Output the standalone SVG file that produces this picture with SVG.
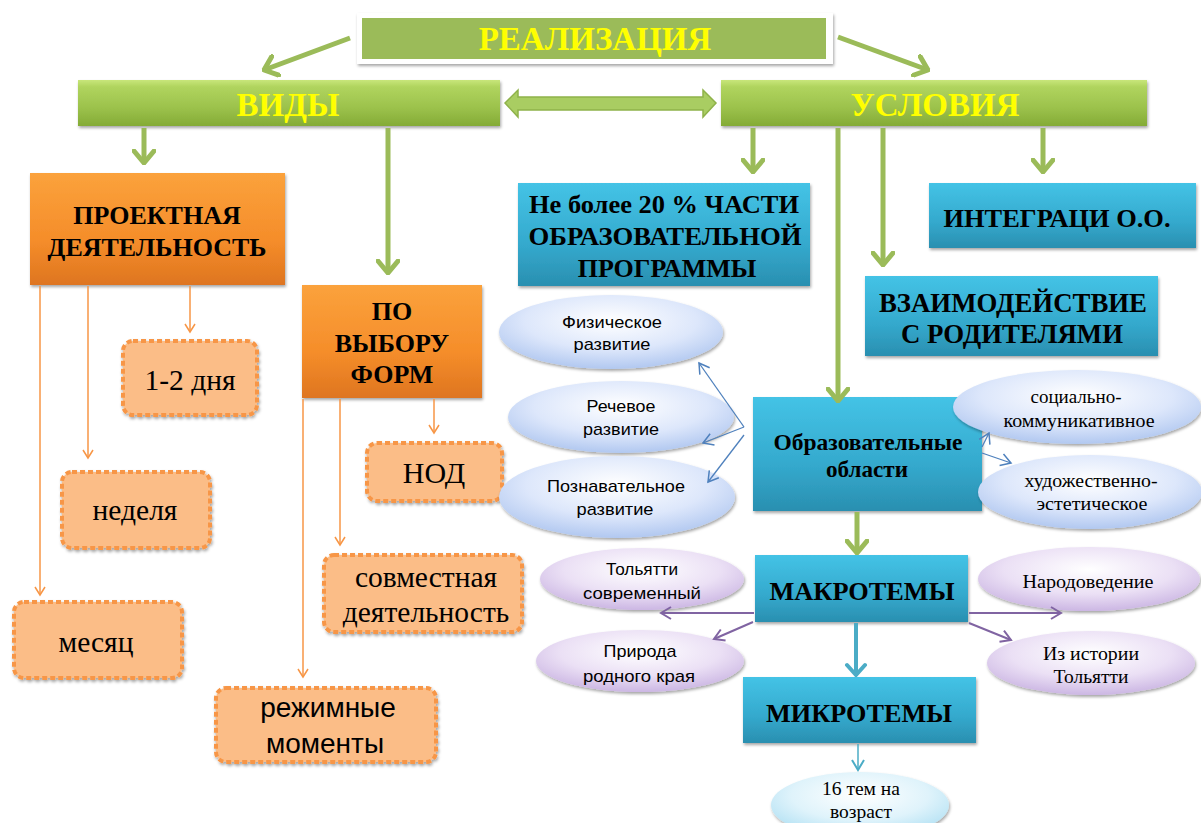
<svg xmlns="http://www.w3.org/2000/svg" width="1201" height="823" viewBox="0 0 1201 823">
<defs>
<linearGradient id="gGreen" x1="0" y1="0" x2="0" y2="1"><stop offset="0" stop-color="#c8e67a"/><stop offset="0.15" stop-color="#b0d45e"/><stop offset="0.6" stop-color="#9cc24c"/><stop offset="1" stop-color="#84ab36"/></linearGradient>
<linearGradient id="gOrange" x1="0" y1="0" x2="0" y2="1"><stop offset="0" stop-color="#fba23c"/><stop offset="0.6" stop-color="#f58d2a"/><stop offset="1" stop-color="#de7520"/></linearGradient>
<linearGradient id="gBlue" x1="0" y1="0" x2="0" y2="1"><stop offset="0" stop-color="#44c3e6"/><stop offset="0.6" stop-color="#34a9cd"/><stop offset="1" stop-color="#2a8fb0"/></linearGradient>
<radialGradient id="gEllBlue" cx="0.5" cy="0.35" r="0.7"><stop offset="0" stop-color="#ffffff"/><stop offset="0.55" stop-color="#dde7fb"/><stop offset="1" stop-color="#a9c2ee"/></radialGradient>
<radialGradient id="gEllPurple" cx="0.5" cy="0.35" r="0.7"><stop offset="0" stop-color="#ffffff"/><stop offset="0.55" stop-color="#ebe0f5"/><stop offset="1" stop-color="#c6afe0"/></radialGradient>
<radialGradient id="gEllCyan" cx="0.5" cy="0.35" r="0.7"><stop offset="0" stop-color="#ffffff"/><stop offset="0.55" stop-color="#dff3fb"/><stop offset="1" stop-color="#a9ddf2"/></radialGradient>
<filter id="sh" x="-10%" y="-10%" width="120%" height="130%"><feDropShadow dx="1" dy="2" stdDeviation="1.5" flood-color="#000" flood-opacity="0.35"/></filter>
<marker id="mGreen" markerUnits="userSpaceOnUse" viewBox="-14 -12 16 24" refX="0" refY="0" markerWidth="16" markerHeight="24" orient="auto"><path d="M-12,-10 L0,0 L-12,10" fill="none" stroke="#9bbb59" stroke-width="5" stroke-linecap="round" stroke-linejoin="round"/></marker>
<marker id="mOrange" markerUnits="userSpaceOnUse" viewBox="-10 -7 12 14" refX="0" refY="0" markerWidth="12" markerHeight="14" orient="auto"><path d="M-8,-5 L0,0 L-8,5" fill="none" stroke="#f79646" stroke-width="1.5"/></marker>
<marker id="mBlue" markerUnits="userSpaceOnUse" viewBox="-12 -8 14 16" refX="0" refY="0" markerWidth="14" markerHeight="16" orient="auto"><path d="M-10,-6 L0,0 L-10,6" fill="none" stroke="#4f81bd" stroke-width="1.5"/></marker>
<marker id="mPurple" markerUnits="userSpaceOnUse" viewBox="-12 -8 14 16" refX="0" refY="0" markerWidth="14" markerHeight="16" orient="auto"><path d="M-10,-6 L0,0 L-10,6" fill="none" stroke="#8064a2" stroke-width="2"/></marker>
<marker id="mCyan" markerUnits="userSpaceOnUse" viewBox="-12 -8 14 16" refX="0" refY="0" markerWidth="14" markerHeight="16" orient="auto"><path d="M-10,-6 L0,0 L-10,6" fill="none" stroke="#4bacc6" stroke-width="2"/></marker>
<marker id="mCyanBig" markerUnits="userSpaceOnUse" viewBox="-14 -12 16 24" refX="0" refY="0" markerWidth="16" markerHeight="24" orient="auto"><path d="M-10,-9 L0,0 L-10,9" fill="none" stroke="#4bacc6" stroke-width="4" stroke-linecap="round"/></marker>
</defs>
<style>
.hdr{font-family:'Liberation Serif','Times New Roman',serif;font-weight:bold;fill:#ffff00;text-anchor:middle;font-size:33px}
.bt{font-family:'Liberation Serif','Times New Roman',serif;font-weight:bold;fill:#000;text-anchor:middle}
.rt{font-family:'Liberation Serif','Times New Roman',serif;fill:#000;text-anchor:middle}
.st{font-family:'Liberation Sans',Arial,sans-serif;fill:#000;text-anchor:middle}
.es{font-family:'Liberation Sans',Arial,sans-serif;fill:#000;text-anchor:middle;font-size:17px}
.er{font-family:'Liberation Serif','Times New Roman',serif;fill:#000;text-anchor:middle;font-size:19px}
.green{fill:url(#gGreen);filter:url(#sh)}
.orange{fill:url(#gOrange);filter:url(#sh)}
.blue{fill:url(#gBlue);filter:url(#sh)}
.dash{fill:#fbbd87;stroke:#f79646;stroke-width:4;stroke-dasharray:5 3;filter:url(#sh)}
.eb{fill:url(#gEllBlue);filter:url(#sh)}
.ep{fill:url(#gEllPurple);filter:url(#sh)}
.ec{fill:url(#gEllCyan);filter:url(#sh)}
.cg{stroke:#9bbb59;stroke-width:5;fill:none;marker-end:url(#mGreen)}
.co{stroke:#f79646;stroke-width:1.5;fill:none;marker-end:url(#mOrange)}
.cb{stroke:#4f81bd;stroke-width:1.3;fill:none;marker-end:url(#mBlue)}
.cp{stroke:#8064a2;stroke-width:2;fill:none;marker-end:url(#mPurple)}
</style>
<rect width="1201" height="823" fill="#fff"/>

<g id="realizatsiya">
<rect x="357" y="13" width="476" height="51" fill="#fff" filter="url(#sh)"/>
<rect x="362" y="18" width="464" height="41" fill="#9bbb59"/>
<text class="hdr" x="595" y="50">РЕАЛИЗАЦИЯ</text>
</g>
<g id="vidy">
<rect class="green" x="78" y="80" width="422" height="46"/>
<text class="hdr" x="288" y="116">ВИДЫ</text>
</g>
<g id="usloviya">
<rect class="green" x="721" y="80" width="426" height="46"/>
<text class="hdr" x="935" y="116">УСЛОВИЯ</text>
</g>

<g id="proektnaya">
<rect class="orange" x="30" y="173" width="255" height="112"/>
<text class="bt" x="157" y="224" font-size="26">ПРОЕКТНАЯ</text>
<text class="bt" x="157" y="256" font-size="26">ДЕЯТЕЛЬНОСТЬ</text>
</g>
<g id="po-vyboru">
<rect class="orange" x="302" y="285" width="180" height="113"/>
<text class="bt" x="392" y="320" font-size="26">ПО</text>
<text class="bt" x="392" y="352" font-size="26">ВЫБОРУ</text>
<text class="bt" x="392" y="383" font-size="26">ФОРМ</text>
</g>
<g id="dni">
<rect class="dash" x="123" y="341" width="134" height="74" rx="10"/>
<text class="rt" x="190" y="390" font-size="29.5">1-2 дня</text>
</g>
<g id="nedelya">
<rect class="dash" x="62" y="472" width="148" height="76" rx="10"/>
<text class="rt" x="135" y="520" font-size="29.5">неделя</text>
</g>
<g id="mesyats">
<rect class="dash" x="14" y="602" width="168" height="76" rx="10"/>
<text class="rt" x="96" y="652" font-size="29.5">месяц</text>
</g>
<g id="nod">
<rect class="dash" x="367" y="443" width="135" height="58" rx="10"/>
<text class="rt" x="434" y="483" font-size="30">НОД</text>
</g>
<g id="sovmestnaya">
<rect class="dash" x="324" y="555" width="198" height="77" rx="10"/>
<text class="rt" x="426" y="587" font-size="29.5">совместная</text>
<text class="rt" x="426" y="622" font-size="29.5">деятельность</text>
</g>
<g id="rezhimnye">
<rect class="dash" x="216" y="688" width="220" height="74" rx="10"/>
<text class="st" x="328" y="717" font-size="28">режимные</text>
<text class="st" x="325" y="753" font-size="28">моменты</text>
</g>

<g id="ne-bolee">
<rect class="blue" x="518" y="183" width="292" height="103"/>
<text class="bt" x="664" y="213" font-size="26" textLength="270" lengthAdjust="spacingAndGlyphs">Не более 20 % ЧАСТИ</text>
<text class="bt" x="665" y="245" font-size="26" textLength="273" lengthAdjust="spacingAndGlyphs">ОБРАЗОВАТЕЛЬНОЙ</text>
<text class="bt" x="667" y="277" font-size="26">ПРОГРАММЫ</text>
</g>
<g id="integratsi">
<rect class="blue" x="929" y="183" width="267" height="65"/>
<text class="bt" x="1057" y="227" font-size="26" textLength="227" lengthAdjust="spacingAndGlyphs">ИНТЕГРАЦИ О.О.</text>
</g>
<g id="vzaimodeystvie">
<rect class="blue" x="865" y="276" width="293" height="80"/>
<text class="bt" x="1013" y="312" font-size="27" textLength="268" lengthAdjust="spacingAndGlyphs">ВЗАИМОДЕЙСТВИЕ</text>
<text class="bt" x="1012" y="343" font-size="27" textLength="222" lengthAdjust="spacingAndGlyphs">С РОДИТЕЛЯМИ</text>
</g>

<g id="fizicheskoe">
<ellipse class="eb" cx="611" cy="332" rx="112" ry="37"/>
<text class="es" x="612" y="328" textLength="100" lengthAdjust="spacingAndGlyphs">Физическое</text>
<text class="es" x="612" y="350" textLength="77" lengthAdjust="spacingAndGlyphs">развитие</text>
</g>
<g id="rechevoe">
<ellipse class="eb" cx="621" cy="417" rx="113" ry="36"/>
<text class="es" x="621" y="412" textLength="69" lengthAdjust="spacingAndGlyphs">Речевое</text>
<text class="es" x="621" y="435" textLength="76" lengthAdjust="spacingAndGlyphs">развитие</text>
</g>
<g id="poznavatelnoe">
<ellipse class="eb" cx="617" cy="497" rx="118" ry="41"/>
<text class="es" x="616" y="492" textLength="138" lengthAdjust="spacingAndGlyphs">Познавательное</text>
<text class="es" x="615" y="515" textLength="77" lengthAdjust="spacingAndGlyphs">развитие</text>
</g>
<g id="obrazovatelnye">
<rect class="blue" x="753" y="397" width="229" height="114"/>
<text class="bt" x="868" y="450" font-size="23" textLength="189" lengthAdjust="spacingAndGlyphs">Образовательные</text>
<text class="bt" x="867" y="477" font-size="23" textLength="82" lengthAdjust="spacingAndGlyphs">области</text>
</g>
<g id="sotsialno">
<ellipse class="eb" cx="1077" cy="407" rx="124" ry="37"/>
<text class="er" x="1076" y="403" textLength="91" lengthAdjust="spacingAndGlyphs">социально-</text>
<text class="er" x="1079" y="427" textLength="151" lengthAdjust="spacingAndGlyphs">коммуникативное</text>
</g>
<g id="khudozhestvenno">
<ellipse class="eb" cx="1090" cy="492" rx="112" ry="37"/>
<text class="er" x="1091" y="487" textLength="133" lengthAdjust="spacingAndGlyphs">художественно-</text>
<text class="er" x="1092" y="510" textLength="111" lengthAdjust="spacingAndGlyphs">эстетическое</text>
</g>

<g id="makrotemy">
<rect class="blue" x="755" y="555" width="213" height="67"/>
<text class="bt" x="862" y="600" font-size="26" textLength="185" lengthAdjust="spacingAndGlyphs">МАКРОТЕМЫ</text>
</g>
<g id="tolyatti-sovr">
<ellipse class="ep" cx="642" cy="579" rx="102" ry="31"/>
<text class="es" x="642" y="575" textLength="72" lengthAdjust="spacingAndGlyphs">Тольятти</text>
<text class="es" x="642" y="599" textLength="118" lengthAdjust="spacingAndGlyphs">современный</text>
</g>
<g id="priroda">
<ellipse class="ep" cx="640" cy="661" rx="104" ry="31"/>
<text class="es" x="640" y="657" textLength="73" lengthAdjust="spacingAndGlyphs">Природа</text>
<text class="es" x="639" y="682" textLength="112" lengthAdjust="spacingAndGlyphs">родного края</text>
</g>
<g id="narodovedenie">
<ellipse class="ep" cx="1089" cy="579" rx="111" ry="32"/>
<text class="er" x="1088" y="588" textLength="131" lengthAdjust="spacingAndGlyphs">Народоведение</text>
</g>
<g id="iz-istorii">
<ellipse class="ep" cx="1091" cy="663" rx="104" ry="32"/>
<text class="er" x="1091" y="660" textLength="96" lengthAdjust="spacingAndGlyphs">Из истории</text>
<text class="er" x="1091" y="683" textLength="75" lengthAdjust="spacingAndGlyphs">Тольятти</text>
</g>
<g id="mikrotemy">
<rect class="blue" x="743" y="677" width="233" height="66"/>
<text class="bt" x="859" y="722" font-size="26" textLength="186" lengthAdjust="spacingAndGlyphs">МИКРОТЕМЫ</text>
</g>
<g id="16-tem">
<ellipse class="ec" cx="860" cy="805" rx="89" ry="33"/>
<text class="er" x="861" y="795" textLength="78" lengthAdjust="spacingAndGlyphs">16 тем на</text>
<text class="er" x="861" y="818" textLength="62" lengthAdjust="spacingAndGlyphs">возраст</text>
</g>

<g id="connectors">
<line class="cg" x1="350" y1="38" x2="264" y2="70"/>
<line class="cg" x1="838" y1="37" x2="928" y2="70"/>
<polygon points="505,103 518,90 518,97 703,97 703,90 716,103 703,117 703,110 518,110 518,117" fill="#a9cd62" stroke="#8fb24a" stroke-width="1.5"/>
<line class="cg" x1="144" y1="128" x2="144" y2="163"/>
<line class="cg" x1="388" y1="128" x2="388" y2="273"/>
<line class="cg" x1="753" y1="128" x2="753" y2="172"/>
<line class="cg" x1="838" y1="128" x2="838" y2="401"/>
<line class="cg" x1="883" y1="128" x2="883" y2="265"/>
<line class="cg" x1="1043" y1="128" x2="1043" y2="172"/>
<line class="co" x1="40" y1="286" x2="40" y2="595"/>
<line class="co" x1="88" y1="286" x2="88" y2="458"/>
<line class="co" x1="190" y1="286" x2="190" y2="332"/>
<line class="co" x1="303" y1="399" x2="303" y2="677"/>
<line class="co" x1="340" y1="399" x2="340" y2="545"/>
<line class="co" x1="434" y1="399" x2="434" y2="433"/>
<line class="cb" x1="744" y1="427" x2="699" y2="363"/>
<line class="cb" x1="744" y1="427" x2="703" y2="443"/>
<line class="cb" x1="744" y1="435" x2="708" y2="482"/>
<line class="cb" x1="982" y1="447" x2="989" y2="433"/>
<line class="cb" x1="982" y1="453" x2="1011" y2="463"/>
<line class="cg" x1="857" y1="512" x2="857" y2="553"/>
<line class="cp" x1="754" y1="613" x2="661" y2="613"/>
<line class="cp" x1="753" y1="622" x2="714" y2="639"/>
<line class="cp" x1="969" y1="613" x2="1061" y2="613"/>
<line class="cp" x1="969" y1="623" x2="1011" y2="640"/>
<line x1="856" y1="623" x2="856" y2="675" stroke="#4bacc6" stroke-width="4" marker-end="url(#mCyanBig)"/>
<line x1="858" y1="744" x2="858" y2="770" stroke="#4bacc6" stroke-width="1.5" marker-end="url(#mCyan)"/>
</g>
</svg>
